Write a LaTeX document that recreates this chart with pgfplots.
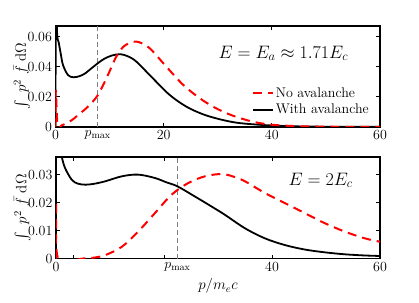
\RequirePackage{fix-cm}
\documentclass[border=0pt]{standalone}
\usepackage{amsmath}
\usepackage{pgfplots}
\pgfplotsset{compat=1.18}
\begin{document}
\begin{tikzpicture}
\path[use as bounding box] (-55.5pt,-175pt) rectangle (363.5pt,127pt);
\pgfplotsset{
  every axis/.append style={
    scale only axis,
    axis line style={line width=1.1pt},
    every tick/.style={line width=0.8pt,black},
    major tick length=4pt,
    tick align=inside,
    xtick pos=both, ytick pos=both,
    xmin=0, xmax=60,
    scaled y ticks=false,
    tick label style={font=\fontsize{14}{16}\selectfont},
    label style={font=\fontsize{15}{17}\selectfont},
    ylabel shift=-9.5pt,
    clip=true,
  },
  blk/.style={black, line width=1.8pt, smooth, tension=0.55, line join=round},
  rd/.style={red, line width=2pt, dash pattern=on 9pt off 6pt, smooth, tension=0.55},
}
\begin{axis}[
  name=top, at={(0,0)}, anchor=south west,
  width=324.5pt, height=101pt,
  ymin=0, ymax=0.067,
  xtick={0,7.8,20,40,60},
  xticklabels={0,$p_{\max}$,20,40,60},
  ytick={0,0.02,0.04,0.06},
  yticklabels={0,0.02,0.04,0.06},
  ylabel={$\int\mkern6mu p^2\mkern6mu\bar{f}\mkern5mu\mathrm{d}\Omega$},
  legend style={at={(0.975,0.085)}, anchor=south east, draw=none, fill=none,
    font=\fontsize{14}{16}\selectfont, row sep=1pt, inner sep=1pt},
  legend cell align=left,
  legend image code/.code={\draw[#1] (0pt,0pt) -- (20pt,0pt);},
]
\addplot[gray, line width=0.6pt, dash pattern=on 5pt off 3pt, forget plot] coordinates {(7.8,0) (7.8,0.067)};
\addplot[blk, forget plot] coordinates {
(0,0) (0.08,0.09) (0.3,0.062) (0.6,0.056) (1.0,0.048) (1.4,0.041) (2.3,0.0345)
(3.3,0.033) (4.5,0.0338) (5.5,0.0356) (6.5,0.0385) (7.9,0.0425) (9,0.0452)
(10.4,0.0474) (12,0.0483) (13.5,0.0467) (15,0.0432) (18,0.0323) (21.1,0.0213) (24.2,0.0135) (27.3,0.0084)
(30.4,0.0051) (33.4,0.0029) (36.5,0.0018) (40,0.001) (45,0.0004) (50,0.0002) (60,0.0001)};
\addplot[rd, forget plot] coordinates {
(0,0) (0.05,0.0246) (0.4,0.0003) (1.1,0.001) (2,0.0025) (3,0.0045) (4.2,0.008)
(6,0.0135) (7.8,0.021) (9.5,0.033) (11,0.045) (12,0.051) (13,0.0545) (14.4,0.0565)
(15.5,0.0562) (17.4,0.0523) (20.5,0.040) (23.6,0.028) (26.7,0.019) (29.7,0.0124)
(32.8,0.0075) (36.5,0.0035) (40,0.0015) (45,0.0005) (50,0.0002) (60,0.0)};
\addlegendimage{red, line width=2pt, dash pattern=on 9pt off 6pt}
\addlegendentry{No avalanche}
\addlegendimage{black, line width=1.8pt}
\addlegendentry{With avalanche}
\node[font=\fontsize{18}{21}\selectfont] at (axis description cs:0.702,0.73) {$E=E_a\approx 1.71E_c$};
\end{axis}
\begin{axis}[
  name=bot, at={(0.5pt,-131.5pt)}, anchor=south west,
  width=324pt, height=101.5pt,
  ymin=0, ymax=0.0363,
  xtick={0,3.3,20,22.5,40,60},
  xticklabels={0,{},{},$p_{\max}$,40,60},
  ytick={0,0.01,0.02,0.03},
  yticklabels={0,0.01,0.02,0.03},
  ylabel={$\int\mkern6mu p^2\mkern6mu\bar{f}\mkern5mu\mathrm{d}\Omega$},
  xlabel={$p/m_e c$},
]
\addplot[gray, line width=0.6pt, dash pattern=on 5pt off 3pt] coordinates {(22.5,0) (22.5,0.0363)};
\addplot[blk] coordinates {
(0,0) (0.08,0.06) (0.5,0.042) (1.05,0.0365) (1.67,0.0324) (2.9,0.0282) (4,0.0268)
(5.4,0.0264) (7,0.0267) (9.1,0.0276) (12.2,0.0294) (15.2,0.0300) (18.3,0.0288)
(20.5,0.0272) (22.5,0.0258) (25.7,0.0222) (28.8,0.0186) (31.3,0.0156) (35,0.0108)
(38.7,0.0072) (42.4,0.0048) (46.1,0.0032) (49.8,0.0022) (53.5,0.0015) (57,0.0011) (60,0.0009)};
\addplot[rd] coordinates {
(0,0) (0.05,0.0205) (0.4,0.0) (5,0) (7,0.0003) (9.1,0.0012) (12.2,0.0042) (15.2,0.0096)
(18.3,0.0162) (21.4,0.0228) (24.5,0.027) (27.6,0.0294) (30.7,0.0302) (33,0.0292)
(35,0.0276) (38.7,0.0234) (42.4,0.0198) (46.1,0.0162) (49.8,0.0126) (53.5,0.0096)
(57.2,0.0072) (60,0.006)};
\node[font=\fontsize{18}{21}\selectfont] at (axis description cs:0.817,0.77) {$E=2E_c$};
\end{axis}
\end{tikzpicture}
\end{document}
